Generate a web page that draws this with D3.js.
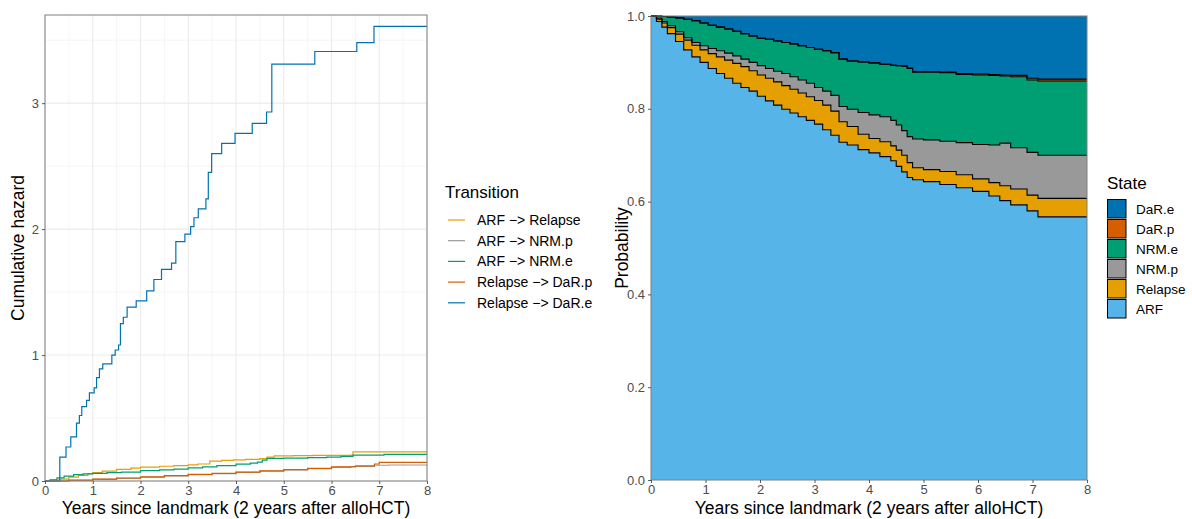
<!DOCTYPE html>
<html>
<head>
<meta charset="utf-8">
<script src="https://cdn.jsdelivr.net/npm/d3@7"></script>
<style>
  body { margin: 0; background: #fff; }
  svg { display: block; font-family: "Liberation Sans", Arial, sans-serif; }
</style>
</head>
<body>
<div id="chart"></div>
<script>
// ---- left panel: cumulative hazards, [years, H] step points ----
const transitionNames = ['ARF −> Relapse', 'ARF −> NRM.p', 'ARF −> NRM.e', 'Relapse −> DaR.p', 'Relapse −> DaR.e'];

const arfRelapse = [[0, 0], [0.15, 0.008], [0.3, 0.015], [0.5, 0.03], [0.7, 0.045], [0.9, 0.058], [1.0, 0.066],
  [1.2, 0.078], [1.5, 0.093], [1.8, 0.103], [2.0, 0.11], [2.4, 0.117], [2.7, 0.122], [3.0, 0.128], [3.2, 0.135],
  [3.45, 0.158], [3.7, 0.163], [3.95, 0.168], [4.2, 0.172], [4.5, 0.177], [4.65, 0.19], [4.8, 0.2], [5.2, 0.201],
  [5.6, 0.203], [6.0, 0.204], [6.4, 0.206], [6.45, 0.232], [8, 0.232]];

const arfNrmP = [[0, 0], [0.5, 0.006], [1.0, 0.013], [1.5, 0.021], [2.0, 0.03], [2.5, 0.04], [3.0, 0.05],
  [3.5, 0.059], [4.0, 0.068], [4.5, 0.078], [5.0, 0.088], [5.5, 0.098], [6.0, 0.108], [6.4, 0.115],
  [6.9, 0.125], [7.2, 0.127], [8, 0.127]];

const arfNrmE = [[0, 0], [0.1, 0.01], [0.25, 0.025], [0.4, 0.038], [0.6, 0.05], [0.8, 0.056], [1.0, 0.061],
  [1.3, 0.066], [1.6, 0.071], [2.0, 0.082], [2.4, 0.088], [2.7, 0.094], [3.0, 0.104], [3.3, 0.112],
  [3.6, 0.122], [4.0, 0.134], [4.3, 0.142], [4.45, 0.15], [4.55, 0.165], [4.65, 0.18], [5.0, 0.182],
  [5.5, 0.186], [5.9, 0.19], [6.2, 0.195], [6.45, 0.205], [7.1, 0.212], [8, 0.212]];

const relapseDarP = [[0, 0], [0.5, 0.007], [1.0, 0.015], [1.5, 0.024], [2.0, 0.033], [2.5, 0.042], [3.0, 0.052],
  [3.5, 0.061], [4.0, 0.07], [4.5, 0.08], [5.0, 0.09], [5.5, 0.101], [6.0, 0.112], [6.5, 0.12],
  [6.9, 0.135], [7.0, 0.148], [8, 0.148]];

const relapseDarE = [[0, 0], [0.31, 0.19], [0.44, 0.27], [0.54, 0.35], [0.66, 0.46], [0.72, 0.52], [0.77, 0.59],
  [0.87, 0.64], [0.93, 0.70], [1.03, 0.74], [1.08, 0.82], [1.14, 0.89], [1.21, 0.93], [1.40, 1.00],
  [1.47, 1.04], [1.54, 1.08], [1.58, 1.25], [1.64, 1.30], [1.72, 1.38], [1.91, 1.43], [2.13, 1.51],
  [2.28, 1.60], [2.44, 1.68], [2.65, 1.73], [2.74, 1.90], [2.93, 1.96], [3.05, 2.02], [3.12, 2.09],
  [3.21, 2.16], [3.37, 2.24], [3.42, 2.45], [3.49, 2.60], [3.70, 2.68], [3.98, 2.76], [4.34, 2.84],
  [4.64, 2.93], [4.75, 3.31], [5.65, 3.41], [6.53, 3.48], [6.89, 3.61], [8.00, 3.61]];

// ---- right panel: state occupation probabilities ----
const stateNames = ['ARF', 'Relapse', 'NRM.p', 'NRM.e', 'DaR.p', 'DaR.e'];
const stateTimes = [0, 0.1, 0.2, 0.3, 0.45, 0.6, 0.75, 0.9, 1.05, 1.2, 1.35, 1.5, 1.65, 1.8, 1.95, 2.1, 2.25, 2.4,
  2.55, 2.7, 2.85, 3.0, 3.15, 3.3, 3.45, 3.6, 3.8, 4.0, 4.2, 4.4, 4.5, 4.6, 4.7, 4.8, 5.0, 5.3, 5.6, 5.9,
  6.2, 6.4, 6.6, 6.9, 7.1, 8];
const probARF = [1, 0.988, 0.976, 0.962, 0.945, 0.927, 0.912, 0.900, 0.887, 0.876, 0.866, 0.855, 0.846, 0.838,
  0.827, 0.817, 0.808, 0.799, 0.791, 0.783, 0.775, 0.767, 0.755, 0.743, 0.728, 0.722, 0.712, 0.705, 0.697,
  0.688, 0.676, 0.664, 0.652, 0.647, 0.643, 0.637, 0.630, 0.622, 0.612, 0.602, 0.593, 0.580, 0.567, 0.567];
const probRelapse = [0, 0.005, 0.009, 0.013, 0.016, 0.021, 0.025, 0.027, 0.032, 0.036, 0.039, 0.043, 0.045, 0.044,
  0.046, 0.049, 0.050, 0.051, 0.051, 0.051, 0.051, 0.051, 0.053, 0.052, 0.044, 0.040, 0.033, 0.031, 0.032,
  0.032, 0.035, 0.036, 0.032, 0.026, 0.026, 0.028, 0.028, 0.027, 0.029, 0.032, 0.034, 0.034, 0.040, 0.040];
const probNRMp = [0, 0.002, 0.003, 0.004, 0.005, 0.005, 0.006, 0.009, 0.011, 0.013, 0.015, 0.016, 0.016, 0.018,
  0.020, 0.021, 0.023, 0.026, 0.027, 0.028, 0.029, 0.028, 0.030, 0.034, 0.033, 0.037, 0.047, 0.051, 0.054,
  0.055, 0.054, 0.053, 0.056, 0.062, 0.064, 0.065, 0.069, 0.074, 0.081, 0.092, 0.089, 0.092, 0.093, 0.093];
const probNRMe = [0, 0.005, 0.011, 0.019, 0.030, 0.040, 0.047, 0.049, 0.050, 0.051, 0.052, 0.053, 0.055, 0.057,
  0.059, 0.063, 0.065, 0.067, 0.071, 0.074, 0.077, 0.082, 0.087, 0.092, 0.102, 0.104, 0.109, 0.112, 0.113,
  0.119, 0.128, 0.139, 0.147, 0.144, 0.146, 0.148, 0.147, 0.150, 0.150, 0.145, 0.153, 0.156, 0.160, 0.160];
const probDaRp = [0, 0, 0, 0, 0, 0, 0, 0, 0, 0, 0, 0, 0, 0, 0, 0, 0, 0, 0, 0, 0, 0, 0, 0, 0, 0, 0, 0, 0, 0, 0, 0,
  0.001, 0.001, 0.001, 0.001, 0.002, 0.002, 0.002, 0.002, 0.003, 0.004, 0.004, 0.004];
const probDaRe = [0, 0, 0.001, 0.002, 0.004, 0.007, 0.010, 0.015, 0.020, 0.024, 0.028, 0.033, 0.038, 0.043,
  0.048, 0.050, 0.054, 0.057, 0.060, 0.064, 0.068, 0.072, 0.075, 0.079, 0.093, 0.097, 0.099, 0.101, 0.104,
  0.106, 0.107, 0.108, 0.112, 0.120, 0.120, 0.121, 0.124, 0.125, 0.126, 0.127, 0.128, 0.134, 0.136, 0.136];

const xTicks = [0, 1, 2, 3, 4, 5, 6, 7, 8];
const hazTicks = [0, 1, 2, 3];
const probTicks = [0, 0.2, 0.4, 0.6, 0.8, 1.0];

// ---- drawing ----
const W = 1192, H = 519;
const svg = d3.select('#chart').append('svg').attr('width', W).attr('height', H);

const transColor = d3.scaleOrdinal().domain(transitionNames)
  .range(['#E69F00', '#999999', '#009E73', '#D55E00', '#0072B2']);
const stateColor = d3.scaleOrdinal().domain(stateNames)
  .range(['#56B4E9', '#E69F00', '#999999', '#009E73', '#D55E00', '#0072B2']);

function styleAxis(g) {
  g.select('.domain').remove();
  g.selectAll('.tick line').attr('stroke', '#333').attr('stroke-width', 0.8);
  g.selectAll('.tick text').attr('fill', '#4D4D4D').style('font-size', '13px');
}

// left panel
const L = { left: 45, right: 427, top: 15, bottom: 481 };
const xL = d3.scaleLinear().domain([0, 8]).range([L.left, L.right]);
const yL = d3.scaleLinear().domain([0, 3.7]).range([L.bottom, L.top]);

const gL = svg.append('g');
const grid = gL.append('g');
grid.selectAll('line.minx').data(d3.range(0.5, 8, 1)).join('line')
  .attr('x1', d => xL(d)).attr('x2', d => xL(d)).attr('y1', L.top).attr('y2', L.bottom)
  .attr('stroke', '#F2F2F2').attr('stroke-width', 0.8);
grid.selectAll('line.miny').data([0.5, 1.5, 2.5, 3.5]).join('line')
  .attr('y1', d => yL(d)).attr('y2', d => yL(d)).attr('x1', L.left).attr('x2', L.right)
  .attr('stroke', '#F2F2F2').attr('stroke-width', 0.8);
grid.selectAll('line.majx').data(xTicks).join('line')
  .attr('x1', d => xL(d)).attr('x2', d => xL(d)).attr('y1', L.top).attr('y2', L.bottom)
  .attr('stroke', '#EBEBEB').attr('stroke-width', 1.1);
grid.selectAll('line.majy').data(hazTicks).join('line')
  .attr('y1', d => yL(d)).attr('y2', d => yL(d)).attr('x1', L.left).attr('x2', L.right)
  .attr('stroke', '#EBEBEB').attr('stroke-width', 1.1);

const hazSeries = [arfRelapse, arfNrmP, arfNrmE, relapseDarP, relapseDarE];
const hazLine = d3.line().x(d => xL(d[0])).y(d => yL(d[1])).curve(d3.curveStepAfter);
gL.selectAll('path.haz').data(hazSeries).join('path')
  .attr('class', 'haz')
  .attr('d', hazLine)
  .attr('fill', 'none')
  .attr('stroke', (d, i) => transColor(transitionNames[i]))
  .attr('stroke-width', 1.2);

gL.append('rect').attr('x', L.left).attr('y', L.top)
  .attr('width', L.right - L.left).attr('height', L.bottom - L.top)
  .attr('fill', 'none').attr('stroke', '#7F7F7F').attr('stroke-width', 1);

gL.append('g').attr('transform', `translate(0,${L.bottom})`)
  .call(d3.axisBottom(xL).tickValues(xTicks).tickSize(3).tickPadding(2).tickFormat(d3.format('d')))
  .call(styleAxis);
gL.append('g').attr('transform', `translate(${L.left},0)`)
  .call(d3.axisLeft(yL).tickValues(hazTicks).tickSize(3).tickPadding(3).tickFormat(d3.format('d')))
  .call(styleAxis);

svg.append('text').attr('x', (L.left + L.right) / 2).attr('y', 514)
  .attr('text-anchor', 'middle').style('font-size', '17.5px')
  .text('Years since landmark (2 years after alloHCT)');
svg.append('text').attr('transform', `translate(24,${(L.top + L.bottom) / 2}) rotate(-90)`)
  .attr('text-anchor', 'middle').style('font-size', '17.5px')
  .text('Cumulative hazard');

// left legend
const legL = svg.append('g').attr('transform', 'translate(445,0)');
legL.append('text').attr('x', 0).attr('y', 198).style('font-size', '17px').text('Transition');
const legItems = legL.selectAll('g.item').data(transitionNames).join('g')
  .attr('transform', (d, i) => `translate(0,${220 + i * 20.7})`);
legItems.append('line').attr('x1', 3).attr('x2', 20)
  .attr('stroke', d => transColor(d)).attr('stroke-width', 1.2);
legItems.append('text').attr('x', 32).attr('dy', '0.35em').style('font-size', '14px').text(d => d);

// right panel
const R = { left: 651, right: 1087, top: 16, bottom: 480 };
const xR = d3.scaleLinear().domain([0, 8]).range([R.left, R.right]);
const yR = d3.scaleLinear().domain([0, 1]).range([R.bottom, R.top]);

const stateRows = stateTimes.map((t, i) => ({
  time: t,
  'ARF': probARF[i], 'Relapse': probRelapse[i], 'NRM.p': probNRMp[i],
  'NRM.e': probNRMe[i], 'DaR.p': probDaRp[i], 'DaR.e': probDaRe[i]
}));
const stacked = d3.stack().keys(stateNames)(stateRows);

const gR = svg.append('g');
const area = d3.area().x(d => xR(d.data.time)).y0(d => yR(d[0])).y1(d => yR(d[1])).curve(d3.curveStepAfter);
gR.selectAll('path.band').data(stacked).join('path')
  .attr('class', 'band')
  .attr('d', area)
  .attr('fill', d => stateColor(d.key));
const edge = d3.line().x(d => xR(d.data.time)).y(d => yR(d[1])).curve(d3.curveStepAfter);
gR.selectAll('path.edge').data(stacked.slice(0, 5)).join('path')
  .attr('class', 'edge')
  .attr('d', edge)
  .attr('fill', 'none').attr('stroke', '#000').attr('stroke-width', 1.1);

gR.append('rect').attr('x', R.left).attr('y', R.top)
  .attr('width', R.right - R.left).attr('height', R.bottom - R.top)
  .attr('fill', 'none').attr('stroke', '#7F7F7F').attr('stroke-width', 1);

gR.append('g').attr('transform', `translate(0,${R.bottom})`)
  .call(d3.axisBottom(xR).tickValues(xTicks).tickSize(3).tickPadding(2).tickFormat(d3.format('d')))
  .call(styleAxis);
gR.append('g').attr('transform', `translate(${R.left},0)`)
  .call(d3.axisLeft(yR).tickValues(probTicks).tickSize(3).tickPadding(3).tickFormat(d3.format('.1f')))
  .call(styleAxis);

svg.append('text').attr('x', (R.left + R.right) / 2).attr('y', 514)
  .attr('text-anchor', 'middle').style('font-size', '17.5px')
  .text('Years since landmark (2 years after alloHCT)');
svg.append('text').attr('transform', `translate(628,${(R.top + R.bottom) / 2}) rotate(-90)`)
  .attr('text-anchor', 'middle').style('font-size', '17.5px')
  .text('Probability');

// right legend (top to bottom reverses stacking order)
const legR = svg.append('g').attr('transform', 'translate(1107,0)');
legR.append('text').attr('x', 0).attr('y', 189).style('font-size', '17px').text('State');
const legStates = stateNames.slice().reverse();
const legR2 = legR.selectAll('g.item').data(legStates).join('g')
  .attr('transform', (d, i) => `translate(0,${199 + i * 20})`);
legR2.append('rect').attr('x', 0.5).attr('y', 0.5).attr('width', 18.5).attr('height', 18.5)
  .attr('fill', d => stateColor(d)).attr('stroke', '#000').attr('stroke-width', 1);
legR2.append('text').attr('x', 29).attr('y', 10).attr('dy', '0.35em').style('font-size', '13.5px').text(d => d);
</script>
</body>
</html>
